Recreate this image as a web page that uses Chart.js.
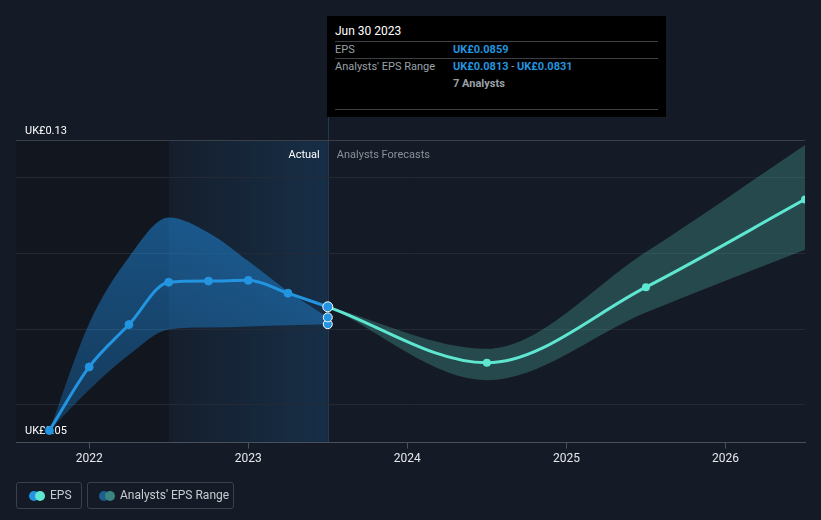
<!DOCTYPE html>
<html>
<head>
<meta charset="utf-8">
<script src="https://cdn.jsdelivr.net/npm/chart.js@4.4.1/dist/chart.umd.min.js"></script>
<style>
    html, body { margin: 0; padding: 0; background: #151b26; font-family: Roboto, "Noto Sans", sans-serif; }
    #wrap { position: relative; width: 821px; height: 520px; }
    #chart { position: absolute; left: 0; top: 0; }
    .tip { position: absolute; left: 327px; top: 16px; width: 339px; height: 101px; background: #000; }
    .tip .title { position: absolute; left: 8px; top: 8px; color: #fff; font-size: 12px; }
    .tip .sep { position: absolute; left: 8px; width: 323px; height: 1px; background: #3c3f44; }
    .tip .lab { position: absolute; left: 8px; color: #9aa0a8; font-size: 11px; }
    .tip .val { position: absolute; left: 126px; color: #2394df; font-size: 11px; font-weight: bold; }
    .tip .val span { color: #9aa0a8; font-weight: normal; }
    .tip .cnt { position: absolute; left: 126px; color: #9aa0a8; font-size: 11px; font-weight: bold; }
    .legend { position: absolute; top: 482px; height: 27px; border: 1px solid #3b414c; border-radius: 3px; box-sizing: border-box; color: #c8ccd2; font-size: 12px; }
    .legend .dot { position: absolute; top: 8px; width: 10px; height: 10px; border-radius: 50%; }
    .legend .txt { position: absolute; top: 5px; white-space: nowrap; }
</style>
</head>
<body>
<div id="wrap">
    <canvas id="chart" width="821" height="520"></canvas>
    <div class="tip">
        <div class="title">Jun 30 2023</div>
        <div class="sep" style="top:25px"></div>
        <div class="lab" style="top:27px">EPS</div>
        <div class="val" style="top:27px">UK£0.0859</div>
        <div class="sep" style="top:42px"></div>
        <div class="lab" style="top:44px">Analysts' EPS Range</div>
        <div class="val" style="top:44px">UK£0.0813 <span>-</span> UK£0.0831</div>
        <div class="cnt" style="top:61px">7 Analysts</div>
        <div class="sep" style="top:93px"></div>
    </div>
    <div class="legend" style="left:16px; width:66px">
        <div class="dot" style="left:12px; background:#2394df"></div>
        <div class="dot" style="left:18px; background:#5ee6d0"></div>
        <div class="txt" style="left:33px">EPS</div>
    </div>
    <div class="legend" style="left:87px; width:147px">
        <div class="dot" style="left:11px; background:#1f5f8f"></div>
        <div class="dot" style="left:17px; background:#3a8580"></div>
        <div class="txt" style="left:32px">Analysts' EPS Range</div>
    </div>
</div>
<script>
    // 数据 (年份用小数表示季度末)
    var actualYears = [2021.75, 2022.0, 2022.25, 2022.5, 2022.75, 2023.0, 2023.25, 2023.5];
    var actualEps = [0.0532, 0.0700, 0.0812, 0.0924, 0.0927, 0.0929, 0.0895, 0.0859];
    var pastRangeHigh = [0.0532, 0.0815, 0.0990, 0.1095, 0.1055, 0.0980, 0.0900, 0.0831];
    var pastRangeLow = [0.0532, 0.0640, 0.0732, 0.0799, 0.0804, 0.0807, 0.0810, 0.0813];

    var forecastYears = [2023.5, 2024.5, 2025.5, 2026.5];
    var forecastEps = [0.0859, 0.0711, 0.0911, 0.1143];
    var forecastHigh = [0.0859, 0.0748, 0.1004, 0.1287];
    var forecastLow = [0.0859, 0.0665, 0.0844, 0.1010];

    var rangeMarkers = [0.0813, 0.0831];
    var yearTicks = [2022, 2023, 2024, 2025, 2026];
    var yTicks = [0.05, 0.06, 0.08, 0.10, 0.12, 0.13];
    var yLabels = [0.13, 0.05];

    var nowYear = 2023.5;
    var lastYearStart = 2022.5;

    function pts(xs, ys) {
        return xs.map(function (x, i) { return { x: x, y: ys[i] } })
    }

    // 背景分区, 竖线, 轴标签
    var decorPlugin = {
        id: 'decor',
        beforeDraw: function (chart) {
            var c = chart.ctx, a = chart.chartArea;
            var xs = chart.scales.x;
            var xPast = xs.getPixelForValue(lastYearStart);
            var xNow = xs.getPixelForValue(nowYear);
            c.save();
            c.fillStyle = 'rgba(0,0,0,0.16)';
            c.fillRect(a.left, a.top, xPast - a.left, a.bottom - a.top);
            var g = c.createLinearGradient(xPast, 0, xNow, 0);
            g.addColorStop(0, 'rgba(33,150,243,0.03)');
            g.addColorStop(1, 'rgba(33,150,243,0.16)');
            c.fillStyle = g;
            c.fillRect(xPast, a.top, xNow - xPast, a.bottom - a.top);
            c.strokeStyle = '#233a52';
            c.lineWidth = 1;
            c.beginPath();
            c.moveTo(Math.round(xNow) + 0.5, 16);
            c.lineTo(Math.round(xNow) + 0.5, a.bottom);
            c.stroke();
            c.restore();
        },
        beforeDatasetsDraw: function (chart) {
            // 标签画在数据点下面
            var c = chart.ctx;
            var ys = chart.scales.y, xs = chart.scales.x;
            var xNow = xs.getPixelForValue(nowYear);
            c.save();
            c.font = '11px Roboto';
            c.textBaseline = 'middle';
            c.fillStyle = '#ffffff';
            yLabels.forEach(function (v, i) {
                c.fillText('UK£' + v.toFixed(2), 25, ys.getPixelForValue(v) - (i === 0 ? 9 : 11));
            });
            c.textAlign = 'right';
            c.fillText('Actual', xNow - 8, ys.top + 15);
            c.textAlign = 'left';
            c.fillStyle = '#8a9099';
            c.fillText('Analysts Forecasts', xNow + 9, ys.top + 15);
            c.restore();
        }
    };

    var ctx = document.getElementById('chart').getContext('2d');

    new Chart(ctx, {
        type: 'line',
        data: {
            datasets: [
                {
                    // 区间端点
                    data: pts([nowYear, nowYear], rangeMarkers),
                    showLine: false,
                    pointRadius: 4.5,
                    pointBackgroundColor: '#2394df',
                    pointBorderColor: '#ffffff',
                    pointBorderWidth: 1
                },
                {
                    data: pts(actualYears, actualEps),
                    borderColor: '#2394df',
                    borderWidth: 3,
                    tension: 0.35,
                    cubicInterpolationMode: 'monotone',
                    pointRadius: function (c) { return c.dataIndex === actualYears.length - 1 ? 5 : 4 },
                    pointBackgroundColor: '#2394df',
                    pointBorderColor: function (c) { return c.dataIndex === actualYears.length - 1 ? '#ffffff' : '#2394df' },
                    pointBorderWidth: 1
                },
                {
                    data: pts(forecastYears, forecastEps),
                    borderColor: '#5ee6d0',
                    borderWidth: 3,
                    cubicInterpolationMode: 'monotone',
                    pointRadius: function (c) { return c.dataIndex === 0 ? 0 : 4 },
                    pointBackgroundColor: '#5ee6d0',
                    pointBorderWidth: 0
                },
                {
                    data: pts(actualYears, pastRangeHigh),
                    borderWidth: 0,
                    pointRadius: 0,
                    tension: 0.4,
                    cubicInterpolationMode: 'monotone',
                    fill: { target: 4 },
                    backgroundColor: function (c) {
                        var a = c.chart.chartArea;
                        if (!a) { return 'rgba(33,150,243,0.45)' }
                        var g = c.chart.ctx.createLinearGradient(0, a.top, 0, a.bottom);
                        g.addColorStop(0, 'rgba(33,150,243,0.55)');
                        g.addColorStop(1, 'rgba(33,150,243,0.25)');
                        return g;
                    }
                },
                {
                    data: pts(actualYears, pastRangeLow),
                    borderWidth: 0,
                    pointRadius: 0,
                    tension: 0.4,
                    cubicInterpolationMode: 'monotone',
                    fill: false
                },
                {
                    data: pts(forecastYears, forecastHigh),
                    borderWidth: 0,
                    pointRadius: 0,
                    cubicInterpolationMode: 'monotone',
                    fill: { target: 6 },
                    backgroundColor: 'rgba(88,210,190,0.25)'
                },
                {
                    data: pts(forecastYears, forecastLow),
                    borderWidth: 0,
                    pointRadius: 0,
                    cubicInterpolationMode: 'monotone',
                    fill: false
                }
            ]
        },
        options: {
            responsive: false,
            animation: false,
            layout: { padding: { left: 16, right: 16, top: 140, bottom: 51 } },
            plugins: {
                legend: { display: false },
                tooltip: { enabled: false }
            },
            scales: {
                x: {
                    type: 'linear',
                    min: 2021.54,
                    max: 2026.5,
                    afterBuildTicks: function (s) { s.ticks = yearTicks.map(function (v) { return { value: v } }) },
                    grid: { drawOnChartArea: false, drawTicks: true, tickLength: 6, color: '#4a505b' },
                    border: { color: '#4a505b', width: 1 },
                    ticks: {
                        color: '#e6e8eb',
                        font: { family: 'Roboto', size: 12 },
                        padding: 3,
                        maxRotation: 0,
                        callback: function (v) { return String(v) }
                    }
                },
                y: {
                    min: 0.05,
                    max: 0.13,
                    afterBuildTicks: function (s) { s.ticks = yTicks.map(function (v) { return { value: v } }) },
                    ticks: { display: false },
                    border: { display: false },
                    grid: {
                        drawTicks: false,
                        color: function (c) {
                            var v = c.tick && c.tick.value;
                            if (v === 0.13) { return '#3a404a' }
                            if (v === 0.05) { return 'rgba(0,0,0,0)' }
                            return '#232a35';
                        }
                    }
                }
            }
        },
        plugins: [decorPlugin]
    });
</script>
</body>
</html>
